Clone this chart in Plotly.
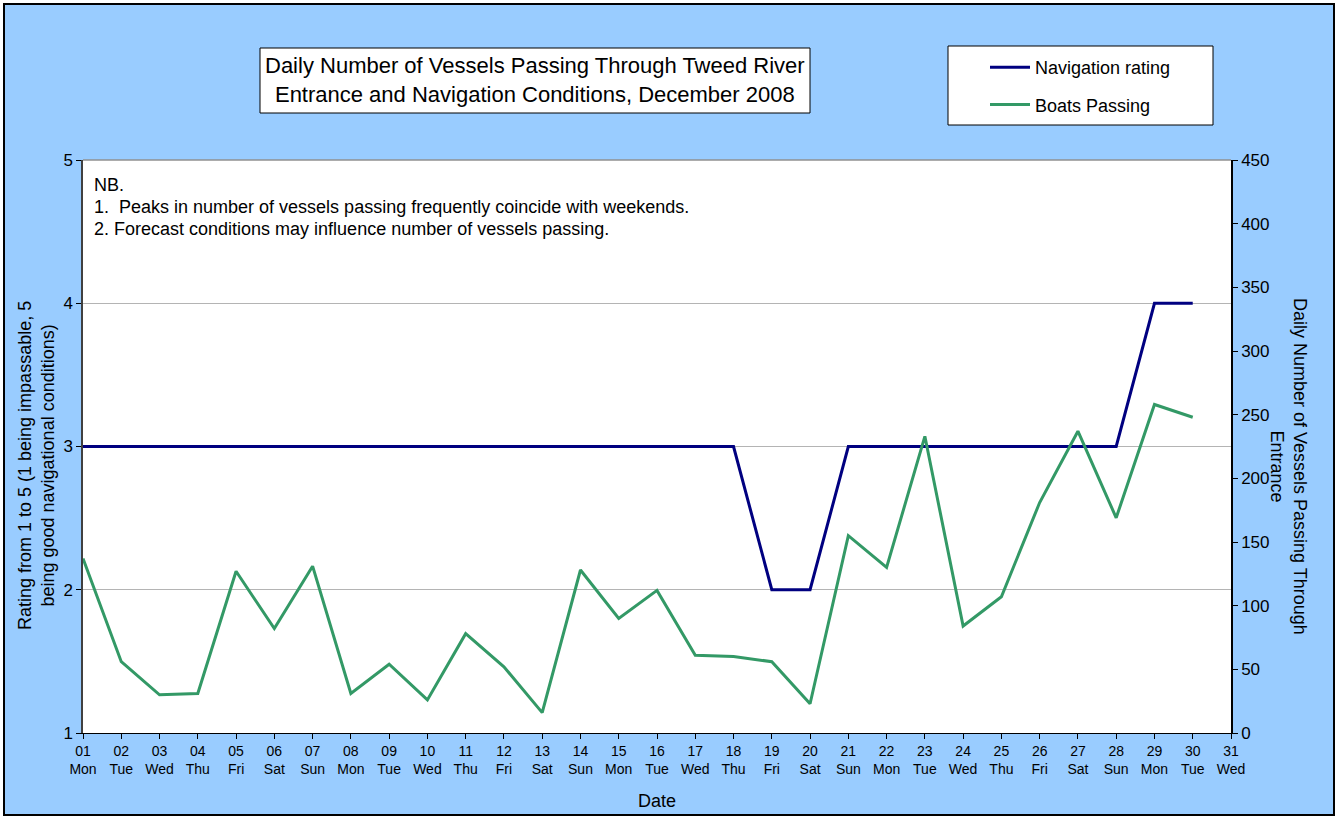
import plotly.graph_objects as go

# ---------------- data ----------------
day_numbers = list(range(1, 32))
day_names = ["Mon", "Tue", "Wed", "Thu", "Fri", "Sat", "Sun",
             "Mon", "Tue", "Wed", "Thu", "Fri", "Sat", "Sun",
             "Mon", "Tue", "Wed", "Thu", "Fri", "Sat", "Sun",
             "Mon", "Tue", "Wed", "Thu", "Fri", "Sat", "Sun",
             "Mon", "Tue", "Wed"]
tick_labels = [f"{d:02d}<br>{n}" for d, n in zip(day_numbers, day_names)]

data_days = list(range(1, 31))
navigation_rating = [3, 3, 3, 3, 3, 3, 3, 3, 3, 3, 3, 3, 3, 3, 3, 3, 3, 3,
                     2, 2, 3, 3, 3, 3, 3, 3, 3, 3, 4, 4]
boats_passing = [137, 56, 30, 31, 127, 82, 131, 31, 54, 26, 78, 52, 16, 128,
                 90, 112, 61, 60, 56, 23, 155, 130, 233, 84, 107, 181, 237,
                 169, 258, 248]

title_text = ("Daily Number of Vessels Passing Through Tweed River<br>"
              "Entrance and Navigation Conditions, December 2008")
note_lines = ["NB.",
              "1.  Peaks in number of vessels passing frequently coincide with weekends.",
              "2. Forecast conditions may influence number of vessels passing."]
left_title = "Rating from 1 to 5 (1 being impassable, 5<br>being good navigational conditions)"
right_title = "Daily Number of Vessels Passing Through<br>Entrance"

# ---------------- layout helpers ----------------
W, H = 1339, 817
PL, PR, PT, PB = 83, 1231, 160, 733
PW, PH = PR - PL, PB - PT


def px(x):
    return (x - PL) / PW


def py(y):
    return (PB - y) / PH


FONT = "Arial, 'Liberation Sans', sans-serif"
BG = "#99CCFF"
NAVY = "#000080"
GREEN = "#339966"

fig = go.Figure()
fig.add_trace(go.Scatter(x=data_days, y=navigation_rating, mode="lines",
                         name="Navigation rating", legendgroup="a",
                         line=dict(color=NAVY, width=3)))
fig.add_trace(go.Scatter(x=data_days, y=boats_passing, mode="lines",
                         name="Boats Passing", legendgroup="b", yaxis="y2",
                         line=dict(color=GREEN, width=3)))

shapes = [
    # outer blue panel with black border
    dict(type="rect", xref="paper", yref="paper", layer="below",
         x0=px(4), x1=px(1334), y0=py(815), y1=py(4),
         fillcolor=BG, line=dict(color="black", width=2)),
    # white plot area
    dict(type="rect", xref="paper", yref="paper", layer="below",
         x0=0, x1=1, y0=0, y1=1, fillcolor="white", line=dict(width=0)),
    # grey top border of plot area
    dict(type="line", xref="paper", yref="paper", layer="above",
         x0=0, x1=1, y0=1, y1=1, line=dict(color="#909090", width=1.5)),
    # title box
    dict(type="rect", xref="paper", yref="paper", layer="below",
         x0=px(260), x1=px(810), y0=py(113), y1=py(48),
         fillcolor="white", line=dict(color="black", width=1)),
    # legend box
    dict(type="rect", xref="paper", yref="paper", layer="below",
         x0=px(948), x1=px(1213), y0=py(125), y1=py(46),
         fillcolor="white", line=dict(color="black", width=1)),
]

annotations = [
    dict(text=title_text, xref="paper", yref="paper", x=px(535), y=py(80),
         xanchor="center", yanchor="middle", showarrow=False,
         font=dict(family=FONT, size=22, color="black")),
    dict(text=left_title, xref="paper", yref="paper", x=px(36), y=py(466),
         xanchor="center", yanchor="middle", showarrow=False, textangle=-90,
         font=dict(family=FONT, size=18, color="black")),
    dict(text=right_title, xref="paper", yref="paper", x=px(1289), y=py(466),
         xanchor="center", yanchor="middle", showarrow=False, textangle=90,
         font=dict(family=FONT, size=18, color="black")),
]
for line, yy in zip(note_lines, [185, 207, 229]):
    annotations.append(dict(text=line, xref="paper", yref="paper", x=px(92), y=py(yy),
                            xanchor="left", yanchor="middle", showarrow=False,
                            font=dict(family=FONT, size=18, color="black")))

fig.update_layout(
    width=W, height=H,
    margin=dict(l=PL, r=W - PR, t=PT, b=H - PB, autoexpand=False),
    paper_bgcolor="white",
    plot_bgcolor="white",
    font=dict(family=FONT, color="black"),
    shapes=shapes,
    annotations=annotations,
    showlegend=True,
    legend=dict(x=px(985), y=py(49), xanchor="left", yanchor="top",
                bgcolor="rgba(0,0,0,0)", borderwidth=0,
                font=dict(family=FONT, size=18, color="black"),
                tracegroupgap=11, itemwidth=40),
    xaxis=dict(range=[1, 31], tickmode="array", tickvals=day_numbers,
               ticktext=tick_labels, tickfont=dict(size=14),
               ticks="outside", ticklen=5, tickcolor="black",
               showline=True, linecolor="black", linewidth=1,
               showgrid=False, zeroline=False,
               title=dict(text="Date", font=dict(size=18), standoff=18)),
    yaxis=dict(range=[1, 5], tickvals=[1, 2, 3, 4, 5], tickfont=dict(size=17),
               ticks="outside", ticklen=5, tickcolor="black",
               showline=True, linecolor="#404040", linewidth=1.5,
               showgrid=True, gridcolor="#B4B4B4", gridwidth=1,
               zeroline=False),
    yaxis2=dict(range=[0, 450], dtick=50, tickfont=dict(size=17),
                overlaying="y", side="right",
                ticks="outside", ticklen=5, tickcolor="black",
                showline=True, linecolor="black", linewidth=1.5,
                showgrid=False, zeroline=False),
)

fig.write_html("out.html",
               config={"displayModeBar": False},
               post_script="document.body.style.margin='0px';"
                           "document.body.style.overflow='hidden';")
